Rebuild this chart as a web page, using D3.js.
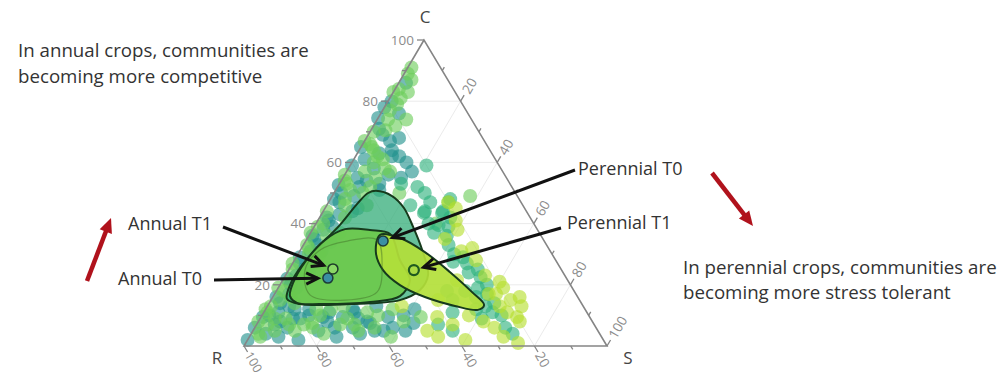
<!DOCTYPE html>
<html>
<head>
<meta charset="utf-8">
<script src="https://cdn.jsdelivr.net/npm/d3@7"></script>
<style>
  html, body { margin: 0; padding: 0; background: #fff; }
  svg { display: block; font-family: "Open Sans", sans-serif; }
</style>
</head>
<body>
<svg id="chart" width="1000" height="376"></svg>
<script>
// ---- Data: ternary compositions given as [C, S]; R = 100 - C - S ----
const axisTitles = ["C", "R", "S"];
const majorTicks = [20, 40, 60, 80, 100];
const minorTicks = [10, 30, 50, 70, 90];
const groupNames = ["Annual T0", "Annual T1", "Perennial T0", "Perennial T1"];

const annualT0 = [
  [74.5,0],[67,7],[68,9],[65,0],[63,6],[62,12],[60,15],[55,4],[53,11],[55,16],
  [50,2],[62,10],[57,18],[78,0],[59,0.5],[52.6,0],[52,6],
  [48,1],[43,5],[44,8],[39,5],[35,2],[33,4],[29,1],[25,4],[22,1],[16,1],
  [9.5,0.5],[6,0],[2,0],[11,4],[13,6],[41,3],[31,6],[23,3],
  [9,11],[11,18],[9.5,22.5],[9,27],[12,24],[7.5,31],[9.5,35],[6,38],[5,42],
  [7.5,43],[5,18],[12,12],[7,5],[13,30],[9.5,17],[5,33.5],[9,9],[6,27],
  [86,2],[80,1],[76,5],[71,2],[69,4],[64,9],[61,3],[58,7],[56,12],[54,7],
  [51,12],[49,6],[47,3],[45,9],[42,2],[38,3],[36,1],[34,7],[31,3],[28,5],
  [27,2],[24,6],[20,3],[19,5],[17,4],[14,3],[12,8],[10,2],[8,6],[4,4],
  [3,8],[6,9],[10,13],[8,19],[6,22],[11,25],[8,30],[5,36],[10,39],[12,41],
  [3,24],[4,30],[2,14]
];
const annualT1 = [
  [89,1],[84,1],[83,0],[83,4],[74,3],[74,8],[67,0],[66,2],[65,3],[62,6],
  [58,10],[60,6],[57,5],[55,9],[53,2],[51,4],[52,9],[50,18],[47,33],[49,38],
  [40,33],[79,3],[70.5,4],[56,0],
  [46,5],[44,1],[40,2],[36,5],[32,2],[30,3],[25,1],[18,2],[13,1],[4,2],[7,3],
  [37,0],[15,2.5],
  [7.5,15],[11,28.5],[12,18],[12,35],[9.5,44],[9,7],[5,11.5],[7,23],[5,29],
  [12,0],[8,0],[7,13],[12,14],[13,21],
  [91,1],[87,3],[81,3],[77,2],[72,6],[70,1],[64,4],[61,8],[57,12],[54,1],
  [50,8],[48,4],[46,11],[42,7],[39,1],[37,8],[33,1],[30,6],[27,0],[23,5],
  [21,2],[19,0],[16,5],[14,7],[11,1],[9,4],[5,6],[3,3],[7,9],[10,16],
  [6,16],[4,20],[9,24],[7,27],[10,32],[6,33],[3,39],[8,40]
];
const perennialT0 = [
  [59,21],[46,23],[44,28],[48,33],[44,33],[40,31],[39,37],[52,22],
  [43.5,33],[43.5,28],[30,43],[27,48],[24,50],[22.5,54],[19,55],[11,63],
  [17,58.5],[39.5,34],[37,34],[27.5,44],[18,52],[13,60],
  [50,25],[53,17],[47,28],[42,36],[36,38],[33,40],[29,46],[25,52],[20,57],
  [16,56],[14,62],[12,58],[9,61],[10,66],[6,69],[4,72],[7,50],[5,55],
  [15,50],[18,47],[11,52]
];
const perennialT1 = [
  [9.5,48.5],[7,54],[13,37],[47,33],[31,44.5],[17,59],[17,61],[11,67],
  [9.5,70.5],[8,72],[1,75],[15,46],[35,38],[21.5,48],[13,64],[21,60],
  [45,36],[41,38],[38,40],[32,47],[28,50],[23,55],[19,62],[15,66],[13,70],
  [6,66],[3,70],[10,57],[8,62],[5,48],[3,52],[2,60],[16,68]
];

// group centroids, same order as groupNames
const centroidC = [22.2, 25.2, 34.3, 24.8];
const centroidS = [12.1, 12.0, 21.3, 34.5];

// hull outlines
const hullOuter = [
  [50.7,11.2],[49.0,16.5],[45.1,21.7],[38.9,27.3],[31.4,33.5],[23.2,39.2],
  [18.3,39.4],[15.0,35.5],[13.7,22.4],[13.7,8.6],[15.4,4.2],[19.9,2.8],
  [26.5,2.9],[33.0,4.6],[39.5,6.8],[46.7,8.2],[50.0,9.4]
];
const hullAnnual = [
  [38.2,8.9],[37.9,15.9],[36.6,22.1],[28.1,29.0],[21.6,35.0],[16.3,34.9],
  [14.4,27.6],[13.7,14.1],[14.1,7.6],[16.3,4.6],[20.6,3.3],[27.5,3.2],[34.6,5.1]
];
const hullPerennial = [
  [36.3,19.5],[35.3,25.5],[30.7,34.6],[24.2,44.7],[17.6,54.1],[13.4,59.5],
  [11.8,58.6],[13.1,51.6],[16.0,41.9],[19.9,33.1],[24.8,26.0],[30.7,21.1]
];
const hullCore = [
  [31.4,5.4],[34.3,11.4],[34.6,19.5],[26.5,24.9],[17.6,27.9],[15.0,20.4],
  [16.7,9.9],[24.8,4.5]
];

const noteAnnual = ["In annual crops, communities are", "becoming more competitive"];
const notePerennial = ["In perennial crops, communities are", "becoming more stress tolerant"];

// ---- Ternary projection built from linear scales ----
const originX = 244;
const yOfC = d3.scaleLinear().domain([0, 100]).range([346, 40]);
const xOfC = d3.scaleLinear().domain([0, 100]).range([0, 180]);
const xOfS = d3.scaleLinear().domain([0, 100]).range([0, 363]);
const proj = (c, s) => [originX + xOfC(c) + xOfS(s), yOfC(c)];

const svg = d3.select("#chart");
svg.append("rect").attr("width", 1000).attr("height", 376).attr("fill", "#fff");

// grid
const grid = svg.append("g").attr("stroke", "#ebebeb").attr("stroke-width", 1);
[20, 40, 60, 80].forEach(v => {
  const segs = [
    [proj(v, 0), proj(v, 100 - v)],          // constant C
    [proj(100 - v, v), proj(0, v)],          // constant S
    [proj(100 - v, 0), proj(0, 100 - v)]     // constant R
  ];
  segs.forEach(([a, b]) => grid.append("line")
    .attr("x1", a[0]).attr("y1", a[1]).attr("x2", b[0]).attr("y2", b[1]));
});

// scatter
const colors = ["#21918c", "#6ccd5a", "#2db27d", "#b5de2b"];
const allGroups = [annualT0, annualT1, perennialT0, perennialT1];
const dots = svg.append("g");
allGroups.forEach((pts, gi) => {
  dots.selectAll(null).data(pts).enter().append("circle")
    .attr("cx", d => proj(d[0], d[1])[0])
    .attr("cy", d => proj(d[0], d[1])[1])
    .attr("r", 7)
    .attr("fill", colors[gi])
    .attr("fill-opacity", 0.62);
});

// hulls
const hullLine = d3.line()
  .x(d => proj(d[0], d[1])[0])
  .y(d => proj(d[0], d[1])[1])
  .curve(d3.curveCatmullRomClosed.alpha(0.5));

svg.append("path").attr("d", hullLine(hullOuter))
  .attr("fill", "#33ac78").attr("fill-opacity", 0.75)
  .attr("stroke", "#163a1c").attr("stroke-width", 2);
svg.append("path").attr("d", hullLine(hullAnnual))
  .attr("fill", "#6dca4c").attr("fill-opacity", 0.92)
  .attr("stroke", "#163a1c").attr("stroke-width", 2);
svg.append("path").attr("d", hullLine(hullPerennial))
  .attr("fill", "#b3df3a").attr("fill-opacity", 0.92)
  .attr("stroke", "#163a1c").attr("stroke-width", 2);
svg.append("path").attr("d", hullLine(hullCore))
  .attr("fill", "none").attr("stroke", "#3f6a25").attr("stroke-opacity", 0.45)
  .attr("stroke-width", 1.2);

// triangle frame
const frame = [proj(100, 0), proj(0, 0), proj(0, 100)];
svg.append("path").attr("d", "M" + frame.join("L") + "Z")
  .attr("fill", "none").attr("stroke", "#858585").attr("stroke-width", 1.6);

// axes: ticks and labels
const axisG = svg.append("g").attr("stroke", "#858585").attr("stroke-width", 1.3);
const labelG = svg.append("g").attr("fill", "#8c8c8c").attr("font-size", 13.5);
const dirR = [0.513, 0.858], dirS = [0.507, -0.862];
function tick(p, dir, len) {
  axisG.append("line").attr("x1", p[0]).attr("y1", p[1])
    .attr("x2", p[0] + dir[0] * len).attr("y2", p[1] + dir[1] * len);
}
majorTicks.concat(minorTicks).forEach(v => {
  const major = majorTicks.includes(v);
  const len = major ? 7 : 4;
  const pc = proj(v, 0);          // C axis (left edge)
  tick(pc, [-1, 0], len);
  const pr = proj(0, 100 - v);    // R axis (base)
  tick(pr, dirR, len);
  const ps = proj(100 - v, v);    // S axis (right edge)
  tick(ps, dirS, len);
  if (major) {
    labelG.append("text").attr("x", pc[0] - 10).attr("y", pc[1]).attr("dy", "0.35em")
      .attr("text-anchor", "end").text(v);
    const lr = [pr[0] + dirR[0] * 8, pr[1] + dirR[1] * 8];
    labelG.append("text").attr("transform", `translate(${lr[0]},${lr[1]}) rotate(60)`)
      .attr("dy", "0.35em").attr("text-anchor", "start").attr("font-size", v === 100 ? 12.5 : 13.5).text(v);
    const ls = [ps[0] + dirS[0] * 10, ps[1] + dirS[1] * 10];
    labelG.append("text").attr("transform", `translate(${ls[0]},${ls[1]}) rotate(-60)`)
      .attr("dy", "0.35em").attr("text-anchor", "start").text(v);
  }
});

// axis titles at the corners
const titleG = svg.append("g").attr("fill", "#444").attr("font-size", 17).attr("text-anchor", "middle");
titleG.append("text").attr("x", proj(100, 0)[0] + 1).attr("y", 23).text(axisTitles[0]);
titleG.append("text").attr("x", proj(0, 0)[0] - 27).attr("y", 364).text(axisTitles[1]);
titleG.append("text").attr("x", proj(0, 100)[0] + 21).attr("y", 364).text(axisTitles[2]);

// centroids
const centFill = ["#3a8fa3", "#8ad766", "#3a8fa3", "#aadb45"];
const centStroke = ["#1d3b3a", "#1d3b2a", "#1d3b3a", "#1f5a1f"];
groupNames.forEach((name, i) => {
  const p = proj(centroidC[i], centroidS[i]);
  svg.append("circle").attr("cx", p[0]).attr("cy", p[1]).attr("r", 5)
    .attr("fill", centFill[i]).attr("stroke", centStroke[i])
    .attr("stroke-width", i === 3 ? 2.2 : 1.5);
});

// annotation arrows pointing at the centroids
function openArrow(x1, y1, x2, y2) {
  const a = Math.atan2(y2 - y1, x2 - x1), L = 13, w = 0.45;
  svg.append("line").attr("x1", x1).attr("y1", y1).attr("x2", x2).attr("y2", y2)
    .attr("stroke", "#111").attr("stroke-width", 3);
  const p1 = [x2 - L * Math.cos(a - w), y2 - L * Math.sin(a - w)];
  const p2 = [x2 - L * Math.cos(a + w), y2 - L * Math.sin(a + w)];
  svg.append("path").attr("d", `M${p1}L${x2},${y2}L${p2}`)
    .attr("fill", "none").attr("stroke", "#111").attr("stroke-width", 3)
    .attr("stroke-linejoin", "miter");
}
const labelAnchors = [[214, 280], [223, 227], [575, 170], [561, 228]];
groupNames.forEach((name, i) => {
  const t = proj(centroidC[i], centroidS[i]);
  const [sx, sy] = labelAnchors[i];
  const dx = t[0] - sx, dy = t[1] - sy, len = Math.hypot(dx, dy), gap = 10;
  openArrow(sx, sy, t[0] - dx / len * gap, t[1] - dy / len * gap);
});

// arrow labels
const lab = svg.append("g").attr("fill", "#333").attr("font-size", 18);
lab.append("text").attr("x", 118).attr("y", 285).text(groupNames[0]);
lab.append("text").attr("x", 128).attr("y", 230).text(groupNames[1]);
lab.append("text").attr("x", 578).attr("y", 175).text(groupNames[2]);
lab.append("text").attr("x", 567).attr("y", 229).text(groupNames[3]);

// trend arrows
function solidArrow(x1, y1, x2, y2) {
  const a = Math.atan2(y2 - y1, x2 - x1), L = 16, w = 0.42;
  const bx = x2 - Math.cos(a) * L * 0.8, by = y2 - Math.sin(a) * L * 0.8;
  svg.append("line").attr("x1", x1).attr("y1", y1).attr("x2", bx).attr("y2", by)
    .attr("stroke", "#b0121c").attr("stroke-width", 4.5);
  const p1 = [x2 - L * Math.cos(a - w), y2 - L * Math.sin(a - w)];
  const p2 = [x2 - L * Math.cos(a + w), y2 - L * Math.sin(a + w)];
  svg.append("path").attr("d", `M${p1}L${x2},${y2}L${p2}Z`).attr("fill", "#b0121c");
}
solidArrow(87, 281, 111, 218);
solidArrow(712, 173, 753, 226);

// notes
const notes = svg.append("g").attr("fill", "#333").attr("font-size", 18.7);
noteAnnual.forEach((t, i) => notes.append("text").attr("x", 18).attr("y", 57 + i * 26).text(t));
notePerennial.forEach((t, i) => notes.append("text").attr("x", 683).attr("y", 274 + i * 25).text(t));
</script>
</body>
</html>
